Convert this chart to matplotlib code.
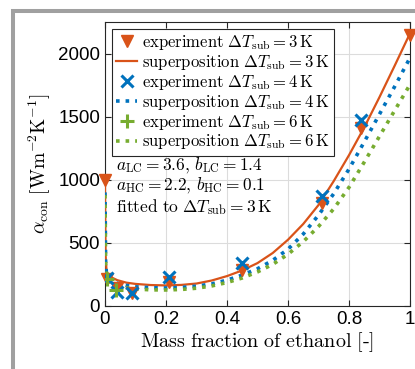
import matplotlib
matplotlib.use("Agg")
import matplotlib.pyplot as plt
from matplotlib.patches import Rectangle
from matplotlib.lines import Line2D

plt.rcParams['mathtext.fontset'] = 'cm'

# Experimental data
x_exp3 = [0.0, 0.008, 0.04, 0.09, 0.21, 0.45, 0.71, 0.84, 1.0]
y_exp3 = [1000, 215, 140, 100, 193, 286, 815, 1410, 2150]
x_exp4 = [0.008, 0.04, 0.09, 0.21, 0.45, 0.71, 0.84]
y_exp4 = [225, 113, 106, 233, 339, 873, 1471]
x_exp6 = [0.008, 0.035]
y_exp6 = [210, 125]

# Superposition model curves
x_sup = [0.0, 0.002, 0.005, 0.01, 0.02, 0.04, 0.07, 0.1, 0.15, 0.2, 0.25, 0.3,
         0.35, 0.4, 0.45, 0.5, 0.55, 0.6, 0.65, 0.7, 0.75, 0.8, 0.85, 0.9,
         0.95, 1.0]
y_sup3 = [950, 400, 280, 245, 228, 205, 185, 175, 166, 163, 167, 178,
          202, 237, 282, 340, 420, 525, 650, 800, 990, 1195, 1415, 1655,
          1905, 2160]
y_sup4 = [900, 350, 250, 220, 205, 180, 163, 152, 145, 143, 147, 157,
          175, 205, 245, 295, 362, 450, 570, 720, 890, 1085, 1300, 1520,
          1740, 1966]
y_sup6 = [880, 330, 230, 200, 185, 162, 145, 135, 128, 127, 131, 141,
          159, 186, 222, 270, 330, 410, 510, 630, 770, 940, 1140, 1345,
          1550, 1754]

xticks = [0, 0.2, 0.4, 0.6, 0.8, 1]
xticklabels = ['0', '0.2', '0.4', '0.6', '0.8', '1']
yticks = [0, 500, 1000, 1500, 2000]

c_or = '#D95319'
c_bl = '#0072BD'
c_gr = '#77AC30'

fig = plt.figure(figsize=(4.15, 3.69), dpi=100)
fig.patch.set_facecolor('white')
# grey frame of the original screenshot
fig.add_artist(Rectangle((13/415, -0.1), 1.2, (369-11)/369 + 0.1,
                         transform=fig.transFigure, fill=False,
                         edgecolor='#a0a0a0', lw=2.9))

ax = fig.add_axes([105/415, (369-306)/369, 305/415, 284/369])

ax.plot(x_sup, y_sup3, '-', color=c_or, lw=1.6, zorder=3)
ax.plot(x_sup, y_sup4, ':', color=c_bl, lw=2.6, zorder=3)
ax.plot(x_sup, y_sup6, ':', color=c_gr, lw=2.6, zorder=3)
ax.plot(x_exp3, y_exp3, 'v', color=c_or, ms=8.5, ls='none', zorder=4, clip_on=False)
ax.plot(x_exp4, y_exp4, 'x', color=c_bl, ms=8.5, mew=2.2, ls='none', zorder=4)
ax.plot(x_exp6, y_exp6, '+', color=c_gr, ms=10, mew=2.2, ls='none', zorder=4)

ax.set_xlim(0, 1)
ax.set_ylim(0, 2250)
ax.set_xticks(xticks)
ax.set_xticklabels(xticklabels)
ax.set_yticks(yticks)
ax.grid(True, color='#dcdcdc', lw=0.8)
ax.set_axisbelow(True)
ax.tick_params(direction='in', length=4, top=True, right=True,
               labelsize=13.5, colors='#262626', width=0.8)
for lab in ax.get_xticklabels() + ax.get_yticklabels():
    lab.set_fontfamily('Liberation Sans')
    lab.set_color('black')
for s in ax.spines.values():
    s.set_color('#262626')
    s.set_linewidth(0.8)

ax.set_xlabel(r'$\mathrm{Mass\ fraction\ of\ ethanol\ [\text{-}]}$', fontsize=14.5, labelpad=2)
ax.set_ylabel(r'$\alpha_{\mathrm{con}}\ [\mathrm{Wm}^{-2}\mathrm{K}^{-1}]$', fontsize=14, labelpad=4)

handles = [
    Line2D([], [], marker='v', color=c_or, ls='none', ms=8.5),
    Line2D([], [], color=c_or, lw=1.6),
    Line2D([], [], marker='x', color=c_bl, ls='none', ms=8.5, mew=2.2),
    Line2D([], [], color=c_bl, lw=2.6, ls=':'),
    Line2D([], [], marker='+', color=c_gr, ls='none', ms=10, mew=2.2),
    Line2D([], [], color=c_gr, lw=2.6, ls=':'),
]
labels = [
    r'$\mathrm{experiment}\ \Delta T_{\mathrm{sub}} = 3\,\mathrm{K}$',
    r'$\mathrm{superposition}\ \Delta T_{\mathrm{sub}} = 3\,\mathrm{K}$',
    r'$\mathrm{experiment}\ \Delta T_{\mathrm{sub}} = 4\,\mathrm{K}$',
    r'$\mathrm{superposition}\ \Delta T_{\mathrm{sub}} = 4\,\mathrm{K}$',
    r'$\mathrm{experiment}\ \Delta T_{\mathrm{sub}} = 6\,\mathrm{K}$',
    r'$\mathrm{superposition}\ \Delta T_{\mathrm{sub}} = 6\,\mathrm{K}$',
]
leg = ax.legend(handles, labels, loc='upper left', bbox_to_anchor=(0.023, 0.975),
                borderaxespad=0, fontsize=12, handlelength=1.25, handletextpad=0.3,
                labelspacing=0.05, borderpad=0.25, fancybox=False, framealpha=1,
                edgecolor='#262626')
leg.get_frame().set_linewidth(0.8)

ax.text(0.036, 0.53,
        r'$a_{\mathrm{LC}} = 3.6,\, b_{\mathrm{LC}} = 1.4$' + '\n' +
        r'$a_{\mathrm{HC}} = 2.2,\, b_{\mathrm{HC}} = 0.1$' + '\n' +
        r'$\mathrm{fitted\ to}\ \Delta T_{\mathrm{sub}} = 3\,\mathrm{K}$',
        transform=ax.transAxes, fontsize=12.5, va='top', ha='left', linespacing=1.05)

fig.savefig('out.png', dpi=100)
